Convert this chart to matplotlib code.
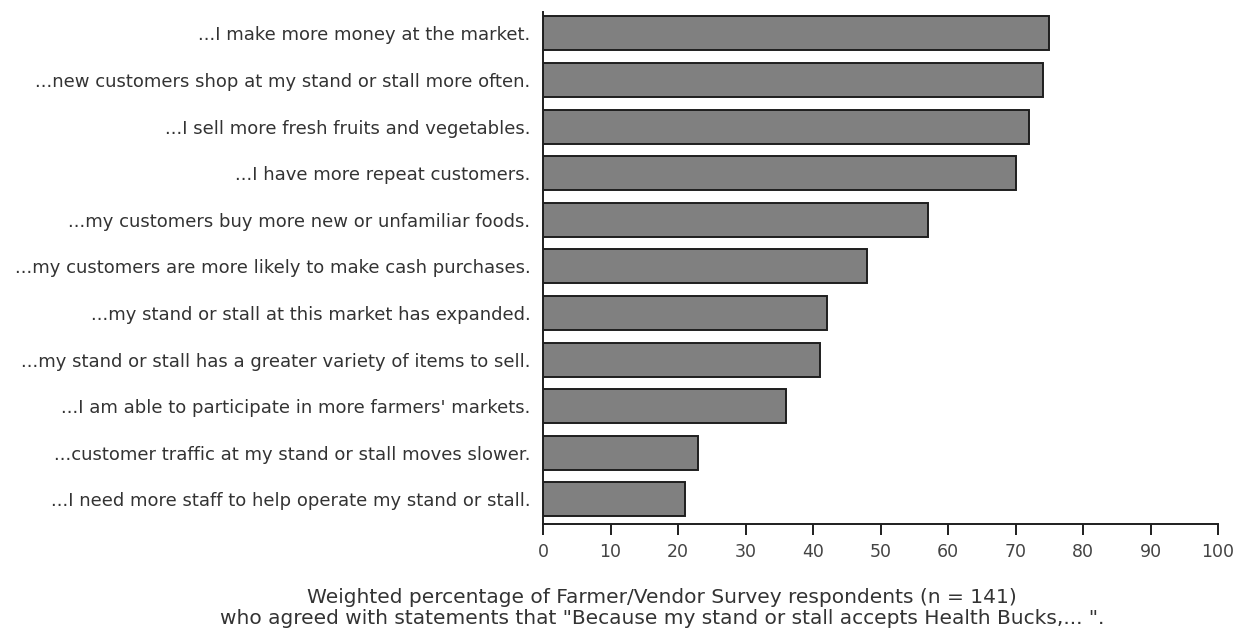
import matplotlib
matplotlib.use("Agg")
import matplotlib.pyplot as plt

categories = [
    "...I make more money at the market.",
    "...new customers shop at my stand or stall more often.",
    "...I sell more fresh fruits and vegetables.",
    "...I have more repeat customers.",
    "...my customers buy more new or unfamiliar foods.",
    "...my customers are more likely to make cash purchases.",
    "...my stand or stall at this market has expanded.",
    "...my stand or stall has a greater variety of items to sell.",
    "...I am able to participate in more farmers' markets.",
    "...customer traffic at my stand or stall moves slower.",
    "...I need more staff to help operate my stand or stall.",
]
values = [75, 74, 72, 70, 57, 48, 42, 41, 36, 23, 21]
xticks = [0, 10, 20, 30, 40, 50, 60, 70, 80, 90, 100]
xlabel = ('Weighted percentage of Farmer/Vendor Survey respondents (n = 141)\n'
          'who agreed with statements that "Because my stand or stall accepts Health Bucks,... ".')

W, H = 1238, 631
fig = plt.figure(figsize=(W / 100, H / 100), dpi=100)
ax = fig.add_axes([543 / W, 1 - 524 / H, (1218 - 543) / W, (524 - 12) / H])

n = len(categories)
ypos = list(range(n - 1, -1, -1))
ax.barh(ypos, values, height=0.73, color="#808080", edgecolor="#1e1e1e", linewidth=1.4)

ax.set_xlim(0, 100)
ax.set_ylim(-0.53, n - 1 + 0.46)
ax.set_xticks(xticks)
ax.set_xticklabels([str(t) for t in xticks])
ax.set_yticks(ypos)
ax.set_yticklabels(categories)

for s in ["top", "right"]:
    ax.spines[s].set_visible(False)
for s in ["left", "bottom"]:
    ax.spines[s].set_linewidth(1.4)
    ax.spines[s].set_color("#1e1e1e")

ax.tick_params(axis="y", length=0, pad=9, labelsize=13, labelcolor="#333333")
ax.tick_params(axis="x", length=8, width=1.4, color="#1e1e1e", pad=6, labelsize=12.5, labelcolor="#444444")

fig.text(662 / W, 1 - 608 / H, xlabel, ha="center", va="center", fontsize=14.5,
         color="#333333", linespacing=1.15)

fig.savefig("out.png", dpi=100)
